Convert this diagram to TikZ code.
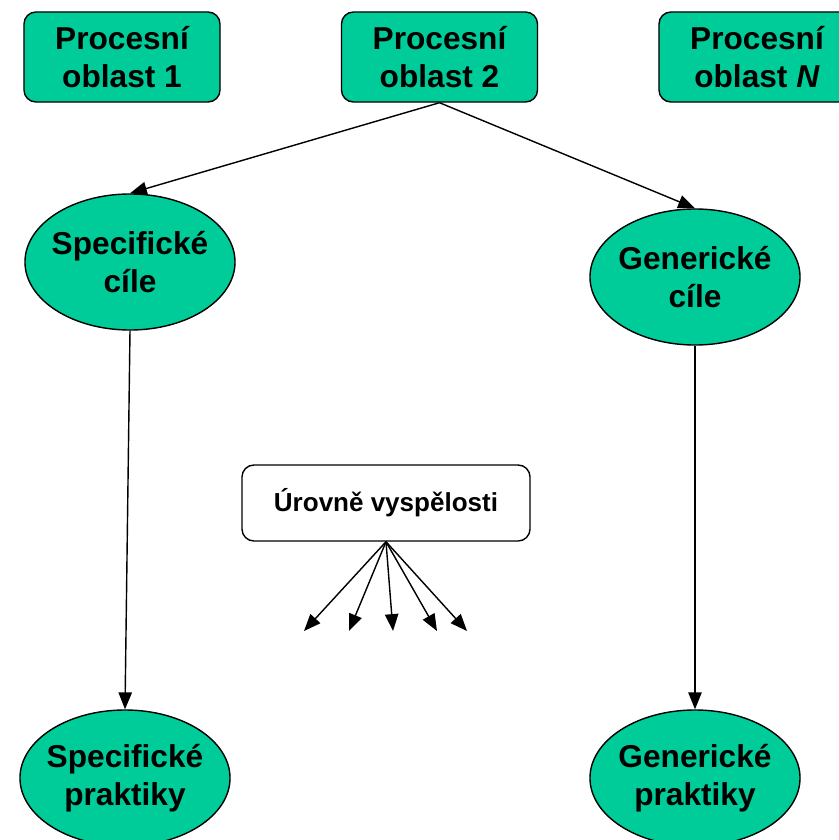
\documentclass[tikz,border=0pt]{standalone}
\usepackage{fontspec}
\setmainfont{Liberation Sans}
\usetikzlibrary{arrows.meta,shapes.geometric}
\definecolor{oblast}{RGB}{0,204,153}
\tikzstyle{area}=[rectangle,rounded corners=0.3cm,draw,line width=1pt,fill=oblast,minimum width=4.9cm,minimum height=2.25cm,align=center,font=\fontsize{22.5}{27}\selectfont\bfseries]
\tikzstyle{goal}=[ellipse,draw,line width=1pt,fill=oblast,minimum width=5.25cm,minimum height=3.4cm,inner xsep=-0.1cm,inner ysep=0pt,align=center,font=\fontsize{22.5}{27}\selectfont\bfseries]
\tikzstyle{level}=[rectangle,rounded corners=0.3cm,draw,line width=1pt,fill=white,minimum width=7.2cm,minimum height=1.9cm,align=center,font=\fontsize{18.5}{22}\selectfont\bfseries]

\begin{document}
\begin{tikzpicture}[x=0.025cm,y=-0.025cm,>={Triangle[length=12pt,width=9.5pt]},line width=1pt]
\useasboundingbox (0,0) rectangle (839,840);
\node[area] at (122, 57) (p1) {Procesní\\oblast 1};
\node[area] at (439.5, 57) (p2) {Procesní\\oblast 2};
\node[area] at (757, 57) (pn) {Procesní\\oblast \textit{N}};
\node[goal] at (130, 262) (sc) {Specifické\\cíle};
\node[goal] at (695, 277) (gc) {Generické\\cíle};
\node[goal] at (125, 778) (sp) {Specifické\\praktiky};
\node[goal] at (695, 778) (gp) {Generické\\praktiky};
\node[level] at (386, 503) (uv) {Úrovně vyspělosti};
\coordinate (u1) at (304, 631);
\coordinate (u2) at (349, 631);
\coordinate (u3) at (393, 631);
\coordinate (u4) at (437, 631);
\coordinate (u5) at (467, 631);
\draw[->] (p2.south) -- (sc.north);
\draw[->] (p2.south) -- (gc.north);
\draw[->] (sc.south) -- (sp.north);
\draw[->] (gc.south) -- (gp.north);
\draw[->] (uv.south) -- (u1);
\draw[->] (uv.south) -- (u2);
\draw[->] (uv.south) -- (u3);
\draw[->] (uv.south) -- (u4);
\draw[->] (uv.south) -- (u5);
\end{tikzpicture}
\end{document}
